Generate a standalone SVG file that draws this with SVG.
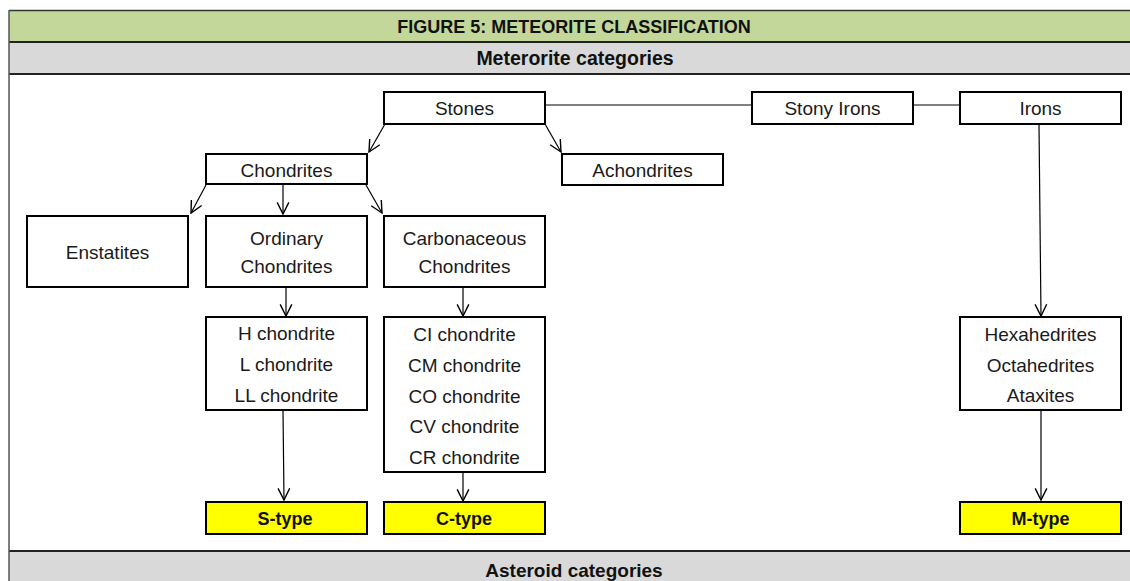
<svg xmlns="http://www.w3.org/2000/svg" width="1130" height="581" viewBox="0 0 1130 581">
<style>
.box{fill:#fff;stroke:#000;stroke-width:2}
.yel{fill:#FFFF00;stroke:#000;stroke-width:2}
.t{font-family:"Liberation Sans",Arial,sans-serif;font-size:19px;fill:#1a1a1a;text-anchor:middle}
.b{font-family:"Liberation Sans",Arial,sans-serif;font-weight:bold;fill:#111;text-anchor:middle}
.c{stroke:#000;stroke-width:1.2;fill:none}
.a{marker-end:url(#arr)}
</style>
<defs>
<marker id="arr" markerUnits="userSpaceOnUse" markerWidth="14" markerHeight="14" viewBox="0 0 12 12" refX="11" refY="6" orient="auto">
<path d="M1,1 L11,6 L1,11" fill="none" stroke="#000" stroke-width="1.2"/>
</marker>
</defs>
<rect x="0" y="0" width="1130" height="581" fill="#fff"/>
<g id="frame">
<rect x="9" y="10" width="1130" height="32" fill="#C4D79B"/>
<rect x="9" y="42" width="1130" height="32" fill="#D9D9D9"/>
<rect x="9" y="551" width="1130" height="40" fill="#D9D9D9"/>
<line x1="9" y1="10.5" x2="1130" y2="10.5" stroke="#333" stroke-width="1.5"/>
<line x1="9" y1="42" x2="1130" y2="42" stroke="#222" stroke-width="2"/>
<line x1="9" y1="74" x2="1130" y2="74" stroke="#222" stroke-width="2"/>
<line x1="9" y1="551" x2="1130" y2="551" stroke="#222" stroke-width="2"/>
<line x1="9" y1="10" x2="9" y2="581" stroke="#555" stroke-width="1.5"/>
<text class="b" x="574" y="33" font-size="18">FIGURE 5: METEORITE CLASSIFICATION</text>
<text class="b" x="575" y="65" font-size="19.5">Meterorite categories</text>
<text class="b" x="574" y="577" font-size="19">Asteroid categories</text>
</g>
<g id="connectors">
<line class="c" x1="545" y1="105" x2="752" y2="105"/>
<line class="c" x1="913" y1="105" x2="960" y2="105"/>
<line class="c a" x1="385" y1="124" x2="369" y2="152"/>
<line class="c a" x1="545" y1="124" x2="561" y2="152"/>
<line class="c a" x1="206" y1="185" x2="191" y2="213"/>
<line class="c a" x1="283" y1="185" x2="283" y2="214"/>
<line class="c a" x1="366" y1="185" x2="382" y2="213"/>
<line class="c a" x1="286" y1="288" x2="286" y2="316"/>
<line class="c a" x1="463" y1="288" x2="463" y2="316"/>
<line class="c a" x1="283" y1="411" x2="284" y2="500"/>
<line class="c a" x1="463" y1="473" x2="463" y2="501"/>
<line class="c a" x1="1039" y1="125" x2="1041" y2="316"/>
<line class="c a" x1="1041" y1="411" x2="1041" y2="500"/>
</g>
<g id="stones"><rect class="box" x="384" y="92" width="161" height="32"/><text class="t" x="464.5" y="115">Stones</text></g>
<g id="stony-irons"><rect class="box" x="752" y="92" width="161" height="32"/><text class="t" x="832.5" y="115">Stony Irons</text></g>
<g id="irons"><rect class="box" x="960" y="92" width="161" height="32"/><text class="t" x="1040.5" y="115">Irons</text></g>
<g id="chondrites"><rect class="box" x="206" y="154" width="161" height="30"/><text class="t" x="286.5" y="177">Chondrites</text></g>
<g id="achondrites"><rect class="box" x="562" y="154" width="161" height="31"/><text class="t" x="642.5" y="177">Achondrites</text></g>
<g id="enstatites"><rect class="box" x="27" y="216" width="161" height="71"/><text class="t" x="107.5" y="259">Enstatites</text></g>
<g id="ordinary"><rect class="box" x="206" y="216" width="161" height="71"/><text class="t" x="286.5" y="245">Ordinary</text><text class="t" x="286.5" y="273">Chondrites</text></g>
<g id="carbonaceous"><rect class="box" x="384" y="216" width="161" height="71"/><text class="t" x="464.5" y="245">Carbonaceous</text><text class="t" x="464.5" y="273">Chondrites</text></g>
<g id="ordinary-list"><rect class="box" x="206" y="317" width="161" height="93"/><text class="t" x="286.5" y="340">H chondrite</text><text class="t" x="286.5" y="371">L chondrite</text><text class="t" x="286.5" y="402">LL chondrite</text></g>
<g id="carbonaceous-list"><rect class="box" x="384" y="317" width="161" height="155"/><text class="t" x="464.5" y="340.5">CI chondrite</text><text class="t" x="464.5" y="371.5">CM chondrite</text><text class="t" x="464.5" y="402.5">CO chondrite</text><text class="t" x="464.5" y="433">CV chondrite</text><text class="t" x="464.5" y="463.5">CR chondrite</text></g>
<g id="irons-list"><rect class="box" x="960" y="317" width="161" height="93"/><text class="t" x="1040.5" y="340.5">Hexahedrites</text><text class="t" x="1040.5" y="371.5">Octahedrites</text><text class="t" x="1040.5" y="402">Ataxites</text></g>
<g id="s-type"><rect class="yel" x="206" y="502" width="161" height="32"/><text class="b" x="285" y="525" font-size="18">S-type</text></g>
<g id="c-type"><rect class="yel" x="384" y="502" width="161" height="32"/><text class="b" x="464" y="525" font-size="18">C-type</text></g>
<g id="m-type"><rect class="yel" x="960" y="502" width="161" height="32"/><text class="b" x="1040.5" y="525" font-size="18">M-type</text></g>
</svg>
